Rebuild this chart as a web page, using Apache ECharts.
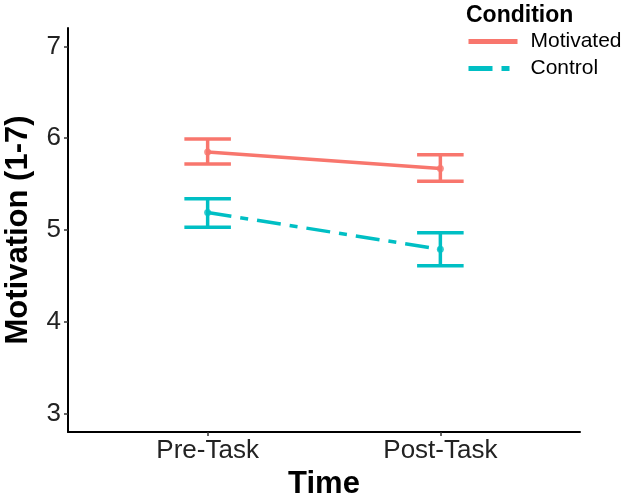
<!DOCTYPE html>
<html>
<head>
<meta charset="utf-8">
<script src="https://cdn.jsdelivr.net/npm/echarts@6/dist/echarts.min.js"></script>
<style>
html, body {margin: 0; padding: 0; background: #fff;}
#chart {width: 624px; height: 496px;}
</style>
</head>
<body>
<div id="chart"></div>
<script>
// data
var timeLabels = ['Pre-Task', 'Post-Task'];
var timePos = [1, 2];
var motivatedMean = [5.85, 5.67];
var motivatedLow = [5.72, 5.53];
var motivatedHigh = [5.99, 5.82];
var controlMean = [5.19, 4.79];
var controlLow = [5.03, 4.61];
var controlHigh = [5.34, 4.97];
var yTicks = [3, 4, 5, 6, 7];

var RED = '#F8766D', CYAN = '#00BFC4';
var FONT = 'Liberation Sans';

function pairs(means) {
    return timePos.map(function (x, i) { return [x, means[i]]; });
}
function bars(lo, hi) {
    return timePos.map(function (x, i) { return [x, lo[i], hi[i]]; });
}

function errorBar(color) {
    return function (params, api) {
        var x = api.value(0);
        var top = api.coord([x, api.value(2)]);
        var bot = api.coord([x, api.value(1)]);
        var half = api.size([0.1, 0])[0];
        var st = {stroke: color, lineWidth: 3.5};
        return {
            type: 'group',
            children: [
                {type: 'line', shape: {x1: top[0], y1: top[1], x2: bot[0], y2: bot[1]}, style: st},
                {type: 'line', shape: {x1: top[0] - half, y1: top[1], x2: top[0] + half, y2: top[1]}, style: st},
                {type: 'line', shape: {x1: bot[0] - half, y1: bot[1], x2: bot[0] + half, y2: bot[1]}, style: st}
            ]
        };
    };
}

var chart = echarts.init(document.getElementById('chart'));
chart.setOption({
    animation: false,
    textStyle: {fontFamily: FONT},
    grid: {left: 68, right: 44, top: 28, bottom: 64, outerBoundsMode: 'none'},
    title: {
        text: 'Condition',
        left: 466, top: 4, padding: 0,
        textStyle: {fontFamily: FONT, fontSize: 23, fontWeight: 'bold', color: '#000'}
    },
    legend: {
        orient: 'vertical',
        left: 466, top: 31, padding: 0,
        itemWidth: 49, itemHeight: 14, itemGap: 6,
        itemStyle: {opacity: 0},
        lineStyle: {width: 5},
        textStyle: {fontFamily: FONT, fontSize: 21, color: '#000', padding: [0, 0, 0, 8]},
        data: ['Motivated', 'Control']
    },
    xAxis: {
        type: 'value', min: 0.4, max: 2.6,
        name: 'Time', nameLocation: 'middle', nameGap: 33,
        nameTextStyle: {fontFamily: FONT, fontSize: 31, fontWeight: 'bold', color: '#000'},
        splitLine: {show: false},
        axisLine: {lineStyle: {color: '#000', width: 2}},
        axisTick: {customValues: timePos, length: 4, lineStyle: {color: '#333', width: 1.5}},
        axisLabel: {
            customValues: timePos, fontSize: 26, color: '#222', margin: 6,
            formatter: function (v) { return timeLabels[timePos.indexOf(v)]; }
        }
    },
    yAxis: {
        type: 'value', min: 2.8, max: 7.2,
        name: 'Motivation (1-7)', nameLocation: 'middle', nameGap: 34,
        nameTextStyle: {fontFamily: FONT, fontSize: 31, fontWeight: 'bold', color: '#000'},
        splitLine: {show: false},
        axisLine: {show: true, lineStyle: {color: '#000', width: 2}},
        axisTick: {show: true, customValues: yTicks, length: 4, lineStyle: {color: '#333', width: 1.5}},
        axisLabel: {customValues: yTicks, fontSize: 26, color: '#222', margin: 7}
    },
    series: [
        {
            name: 'Motivated', type: 'line', data: pairs(motivatedMean),
            symbol: 'none', color: RED,
            lineStyle: {color: RED, width: 3.5}
        },
        {
            name: 'Control', type: 'line', data: pairs(controlMean),
            symbol: 'none', color: CYAN,
            lineStyle: {color: CYAN, width: 3.5, type: [24, 9, 8, 9]}
        },
        {
            type: 'scatter', data: pairs(motivatedMean), symbolSize: 7,
            itemStyle: {color: RED}, z: 3
        },
        {
            type: 'scatter', data: pairs(controlMean), symbolSize: 7,
            itemStyle: {color: CYAN}, z: 3
        },
        {
            type: 'custom', data: bars(motivatedLow, motivatedHigh),
            renderItem: errorBar(RED), encode: {x: 0, y: [1, 2]}
        },
        {
            type: 'custom', data: bars(controlLow, controlHigh),
            renderItem: errorBar(CYAN), encode: {x: 0, y: [1, 2]}
        }
    ]
});
</script>
</body>
</html>
